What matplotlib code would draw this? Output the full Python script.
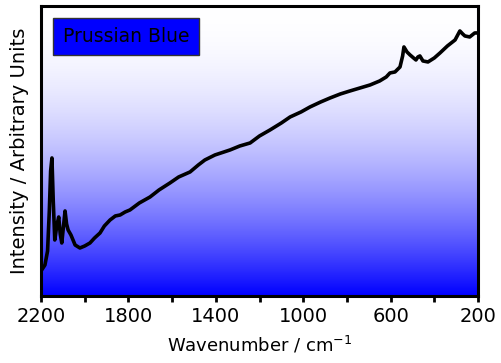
import numpy as np
import matplotlib
matplotlib.use("Agg")
import matplotlib.pyplot as plt
from matplotlib.ticker import FixedLocator

wavenumber = [2200, 2191, 2182, 2170, 2162, 2156, 2150, 2144, 2137, 2128, 2119, 2112, 2105, 2097,
              2090, 2083, 2076, 2063, 2044, 2022, 2000, 1976, 1955, 1930, 1910, 1884, 1860, 1838,
              1815, 1793, 1750, 1701, 1660, 1610, 1570, 1518, 1480, 1450, 1404, 1335, 1290, 1243,
              1200, 1152, 1100, 1060, 1010, 969, 920, 877, 830, 786, 740, 694, 650, 620, 603, 580,
              557, 545, 539, 525, 511, 495, 484, 475, 466, 452, 429, 400, 374, 340, 305, 283, 270,
              260, 238, 215, 200]
intensity = [25, 28, 31, 45, 85, 125, 138, 95, 56, 70, 79, 62, 53, 70, 85, 72, 66, 61, 51, 48,
             50, 53, 58, 63, 70, 76, 80, 81, 84, 86, 93, 99, 106, 113, 119, 124, 131, 136, 141,
             146, 150, 153, 160, 166, 173, 179, 184, 189, 194, 198, 202, 205, 208, 211, 215, 219,
             223, 224, 229, 240, 249, 244, 241, 238, 236, 239, 240, 235, 234, 238, 243, 250, 256,
             265, 262, 260, 259, 263, 263]

xticks_major = [2200, 1800, 1400, 1000, 600, 200]
xticks_minor = [2000, 1600, 1200, 800, 400]

fig = plt.figure(figsize=(5.02, 3.63), dpi=100)
ax = fig.add_axes([0.0817, 0.1846, 0.8705, 0.799])

# gradient background: white at top to blue at bottom
t = np.linspace(0, 1, 256)[:, None]
white = 1 - t ** 2
img = np.dstack([white, white, np.ones_like(white)])
ax.imshow(img, extent=[0, 1, 0, 1], origin="upper", transform=ax.transAxes,
          aspect="auto", zorder=0)

ax.plot(wavenumber, intensity, color="black", lw=2.6, zorder=2, solid_joinstyle="round")

ax.set_xlim(2200, 200)
ax.set_ylim(0, 290)
ax.xaxis.set_major_locator(FixedLocator(xticks_major))
ax.xaxis.set_minor_locator(FixedLocator(xticks_minor))
ax.set_yticks([])
ax.tick_params(axis="x", which="both", direction="out", length=4, width=2, labelsize=14, pad=4)
for s in ax.spines.values():
    s.set_linewidth(2.2)

ax.set_xlabel("Wavenumber / cm$^{-1}$", fontsize=13, labelpad=6)
ax.set_ylabel("Intensity / Arbitrary Units", fontsize=14, labelpad=9)

ax.text(0.05, 0.895, "Prussian Blue", transform=ax.transAxes, fontsize=13.5,
        va="center", ha="left", zorder=3,
        bbox=dict(boxstyle="square,pad=0.5", facecolor="#0000ff", edgecolor="#333333", lw=1))

fig.savefig("out.png", dpi=100)
